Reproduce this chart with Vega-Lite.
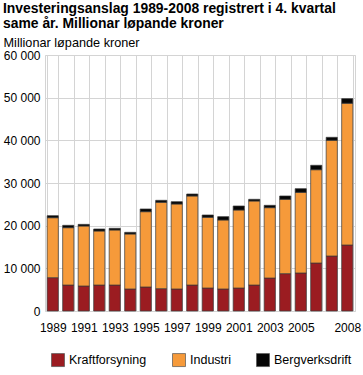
{
  "$schema": "https://vega.github.io/schema/vega-lite/v6.json",
  "width": 310,
  "height": 256,
  "padding": {"left": 3, "top": 1, "right": 8, "bottom": 0},
  "background": "white",
  "title": {
    "text": ["Investeringsanslag 1989-2008 registrert i 4. kvartal", "same år. Millionar løpande kroner"],
    "anchor": "start",
    "frame": "bounds",
    "font": "Liberation Sans",
    "fontSize": 13.9,
    "fontWeight": "bold",
    "lineHeight": 15.5,
    "color": "#000",
    "offset": 5
  },
  "data": {
    "values": [
      {"year": 1989, "Kraftforsyning": 7810, "Industri": 14060, "Bergverksdrift": 470},
      {"year": 1990, "Kraftforsyning": 6090, "Industri": 13440, "Bergverksdrift": 550},
      {"year": 1991, "Kraftforsyning": 5860, "Industri": 14060, "Bergverksdrift": 390},
      {"year": 1992, "Kraftforsyning": 6090, "Industri": 12660, "Bergverksdrift": 470},
      {"year": 1993, "Kraftforsyning": 6090, "Industri": 12900, "Bergverksdrift": 390},
      {"year": 1994, "Kraftforsyning": 5160, "Industri": 12890, "Bergverksdrift": 390},
      {"year": 1995, "Kraftforsyning": 5630, "Industri": 17650, "Bergverksdrift": 630},
      {"year": 1996, "Kraftforsyning": 5240, "Industri": 20240, "Bergverksdrift": 460},
      {"year": 1997, "Kraftforsyning": 5160, "Industri": 19920, "Bergverksdrift": 540},
      {"year": 1998, "Kraftforsyning": 6090, "Industri": 20870, "Bergverksdrift": 460},
      {"year": 1999, "Kraftforsyning": 5390, "Industri": 16570, "Bergverksdrift": 540},
      {"year": 2000, "Kraftforsyning": 5160, "Industri": 16170, "Bergverksdrift": 780},
      {"year": 2001, "Kraftforsyning": 5390, "Industri": 18280, "Bergverksdrift": 940},
      {"year": 2002, "Kraftforsyning": 6090, "Industri": 19690, "Bergverksdrift": 400},
      {"year": 2003, "Kraftforsyning": 7730, "Industri": 16490, "Bergverksdrift": 550},
      {"year": 2004, "Kraftforsyning": 8750, "Industri": 17430, "Bergverksdrift": 780},
      {"year": 2005, "Kraftforsyning": 8910, "Industri": 18900, "Bergverksdrift": 860},
      {"year": 2006, "Kraftforsyning": 11250, "Industri": 21870, "Bergverksdrift": 1030},
      {"year": 2007, "Kraftforsyning": 12890, "Industri": 27120, "Bergverksdrift": 700},
      {"year": 2008, "Kraftforsyning": 15470, "Industri": 33220, "Bergverksdrift": 1080}
    ]
  },
  "transform": [
    {"fold": ["Kraftforsyning", "Industri", "Bergverksdrift"], "as": ["serie", "verdi"]}
  ],
  "mark": {"type": "bar", "stroke": "#3a3a3a", "strokeWidth": 0.7},
  "encoding": {
    "x": {
      "field": "year",
      "type": "ordinal",
      "scale": {"paddingInner": 0.28, "paddingOuter": 0.14},
      "axis": {
        "title": null,
        "tickBand": "extent",
        "ticks": false,
        "domain": false,
        "grid": true,
        "gridColor": "#d4d4d4",
        "gridWidth": 1,
        "labelAngle": 0,
        "labelFont": "Liberation Sans",
        "labelFontSize": 12,
        "labelColor": "#000",
        "labelPadding": 11,
        "labelOverlap": false,
        "labelExpr": "(datum.value % 2 == 1 && datum.value != 2007) || datum.value == 2008 ? datum.label : ''"
      }
    },
    "y": {
      "field": "verdi",
      "type": "quantitative",
      "aggregate": "sum",
      "stack": "zero",
      "scale": {"domain": [0, 60000], "nice": false},
      "axis": {
        "title": "Millionar løpande kroner",
        "titleAngle": 0,
        "titleAlign": "left",
        "titleBaseline": "alphabetic",
        "titleX": -42,
        "titleY": -9,
        "titleFont": "Liberation Sans",
        "titleFontSize": 12.7,
        "titleFontWeight": "normal",
        "titleColor": "#000",
        "values": [0, 10000, 20000, 30000, 40000, 50000, 60000],
        "labelExpr": "replace(format(datum.value, ','), ',', ' ')",
        "labelFont": "Liberation Sans",
        "labelFontSize": 12,
        "labelColor": "#000",
        "labelPadding": 5,
        "ticks": false,
        "domain": false,
        "grid": true,
        "gridColor": "#d4d4d4",
        "gridWidth": 1
      }
    },
    "color": {
      "field": "serie",
      "type": "nominal",
      "scale": {
        "domain": ["Kraftforsyning", "Industri", "Bergverksdrift"],
        "range": ["#9b1c21", "#f69a3a", "#050505"]
      },
      "legend": {
        "title": null,
        "orient": "none",
        "legendX": 6,
        "legendY": 298,
        "padding": 0,
        "direction": "horizontal",
        "symbolType": "square",
        "symbolSize": 169,
        "symbolStrokeColor": "#555",
        "symbolStrokeWidth": 0.7,
        "labelFont": "Liberation Sans",
        "labelFontSize": 12.5,
        "labelColor": "#000",
        "labelOffset": 4,
        "columnPadding": 24
      }
    },
    "order": {"field": "serie", "sort": "descending"}
  },
  "config": {
    "view": {"stroke": "#d4d4d4"}
  }
}
